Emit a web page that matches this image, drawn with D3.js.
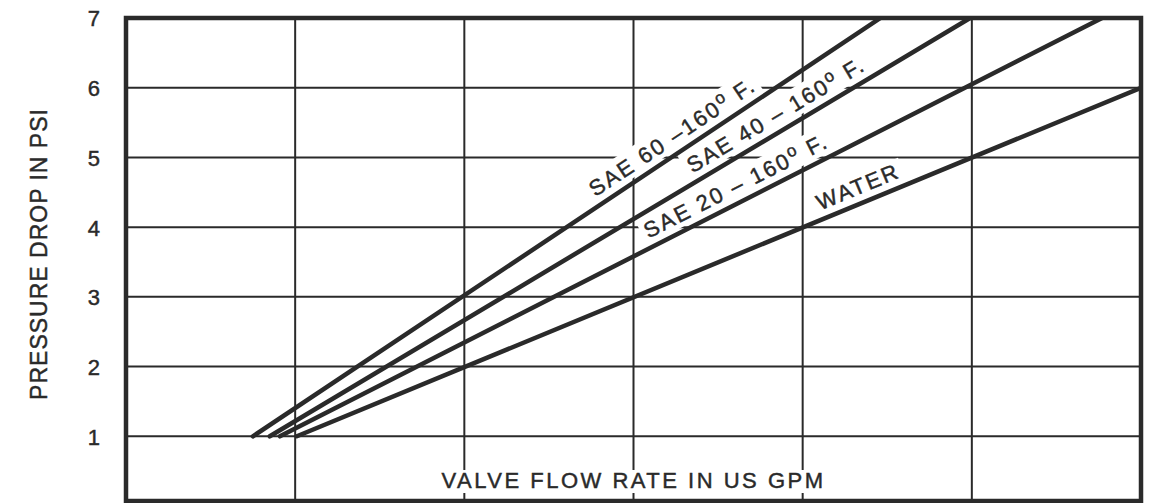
<!DOCTYPE html>
<html>
<head>
<meta charset="utf-8">
<script src="https://cdn.jsdelivr.net/npm/d3@7"></script>
<style>
  body { margin: 0; background: #fff; }
  text { font-family: "Liberation Sans", Arial, sans-serif; fill: #2a2a2a; stroke: #2a2a2a; stroke-width: 0.45px; }
</style>
</head>
<body>
<div id="chart"></div>
<script>
// values (x is in grid divisions, the x axis carries no numbers)
var seriesNames = ["SAE 60 –160", "SAE 40 – 160", "SAE 20 – 160", "WATER"];
var hasDegree = [true, true, true, false];
var startFlow = [0.75, 0.85, 0.91, 1.01];
var startPsi = [1, 1, 1, 1];
var endFlow = [4.46, 4.99, 5.77, 6.0];
var endPsi = [7, 7, 7, 6];
var labelPsi = [4.32, 4.66, 3.72, 4.12];   // where each label starts along its line

var yTicks = [1, 2, 3, 4, 5, 6, 7];
var xGrid = [1, 2, 3, 4, 5];

// set up the svg
var svgWidth = 1156;
var svgHeight = 503;

var frame = { left: 126, right: 1141, top: 18, bottom: 501 };

var svg = d3.select("#chart")
    .append("svg")
    .attr("width", svgWidth)
    .attr("height", svgHeight);

svg.append("rect")
    .attr("width", svgWidth)
    .attr("height", svgHeight)
    .attr("fill", "#fff");

var xScale = d3.scaleLinear()
    .domain([0, 6])
    .range([frame.left, frame.right]);

var yScale = d3.scaleLinear()
    .domain([0, 7])
    .range([506, frame.top]);

var ink = "#2a2a2a";

// grid lines
var gridGroup = svg.append("g");

gridGroup.selectAll(".hgrid")
    .data(yTicks.slice(0, -1))
    .enter()
    .append("line")
    .attr("x1", frame.left)
    .attr("x2", frame.right)
    .attr("y1", d => yScale(d))
    .attr("y2", d => yScale(d))
    .attr("stroke", ink)
    .attr("stroke-width", 2);

gridGroup.selectAll(".vgrid")
    .data(xGrid)
    .enter()
    .append("line")
    .attr("x1", d => xScale(d))
    .attr("x2", d => xScale(d))
    .attr("y1", frame.top)
    .attr("y2", frame.bottom)
    .attr("stroke", ink)
    .attr("stroke-width", 2);

// y axis tick labels
var leftAxis = d3.axisLeft(yScale)
    .tickValues(yTicks)
    .tickFormat(d3.format("d"))
    .tickSize(0)
    .tickPadding(0);

var yAxis = svg.append("g")
    .attr("transform", "translate(100, 0)")
    .call(leftAxis);

yAxis.select(".domain").remove();
yAxis.selectAll("text")
    .attr("font-size", 22)
    .attr("font-family", "Liberation Sans, Arial, sans-serif")
    .attr("fill", ink)
    .attr("dy", "0.36em");

// y axis title
svg.append("text")
    .attr("transform", "translate(47, 254) rotate(-90)")
    .attr("text-anchor", "middle")
    .attr("font-size", 23)
    .attr("letter-spacing", 1)
    .text("PRESSURE DROP IN PSI");

// x axis title sits inside the plot on a white patch
var xTitle = svg.append("g");
var xTitleText = xTitle.append("text")
    .attr("x", xScale(3))
    .attr("y", 488)
    .attr("text-anchor", "middle")
    .attr("font-size", 22)
    .attr("letter-spacing", 2.5)
    .text("VALVE FLOW RATE IN US GPM");
var xb = xTitleText.node().getBBox();
xTitle.insert("rect", "text")
    .attr("x", xb.x - 6)
    .attr("y", xb.y + 2)
    .attr("width", xb.width + 12)
    .attr("height", xb.height - 2)
    .attr("fill", "#fff");

// series geometry
var series = seriesNames.map(function(name, i) {
    return {
        name: name,
        degree: hasDegree[i],
        points: [[startFlow[i], startPsi[i]], [endFlow[i], endPsi[i]]],
        labelPsi: labelPsi[i]
    };
});

function pointAt(s, psi) {
    var t = (psi - s.points[0][1]) / (s.points[1][1] - s.points[0][1]);
    var f = s.points[0][0] + t * (s.points[1][0] - s.points[0][0]);
    return [xScale(f), yScale(psi)];
}

function angleOf(s) {
    var a = [xScale(s.points[0][0]), yScale(s.points[0][1])];
    var b = [xScale(s.points[1][0]), yScale(s.points[1][1])];
    return Math.atan2(b[1] - a[1], b[0] - a[0]) * 180 / Math.PI;
}

// labels: white patches first, lines, then text
var labelGroups = svg.append("g").selectAll("g")
    .data(series)
    .enter()
    .append("g")
    .attr("transform", function(d) {
        var p = pointAt(d, d.labelPsi);
        return `translate(${p[0]}, ${p[1]}) rotate(${angleOf(d)})`;
    });

var labelTexts = labelGroups.append("text")
    .attr("x", 0)
    .attr("y", -9)
    .attr("font-size", 22)
    .attr("letter-spacing", 2.2);

labelTexts.append("tspan").text(d => d.name);
labelTexts.filter(d => d.degree).append("tspan")
    .attr("font-size", 17)
    .attr("dy", -8)
    .text("o");
labelTexts.filter(d => d.degree).append("tspan")
    .attr("dy", 8)
    .text(" F.");

labelGroups.each(function() {
    var g = d3.select(this);
    var bb = g.select("text").node().getBBox();
    g.insert("rect", "text")
        .attr("x", bb.x - 4)
        .attr("y", bb.y + 1)
        .attr("width", bb.width + 8)
        .attr("height", bb.height - 1)
        .attr("fill", "#fff");
});

// clip lines to frame
svg.append("clipPath")
    .attr("id", "plotClip")
    .append("rect")
    .attr("x", frame.left)
    .attr("y", frame.top)
    .attr("width", frame.right - frame.left)
    .attr("height", frame.bottom - frame.top);

var line = d3.line()
    .x(d => xScale(d[0]))
    .y(d => yScale(d[1]));

svg.append("g")
    .attr("clip-path", "url(#plotClip)")
    .selectAll("path")
    .data(series)
    .enter()
    .append("path")
    .attr("d", d => line(d.points))
    .attr("fill", "none")
    .attr("stroke", ink)
    .attr("stroke-width", 4.5)
    .attr("stroke-linecap", "round");

// bring label text above everything drawn so far
labelGroups.raise();

// frame
svg.append("rect")
    .attr("x", frame.left)
    .attr("y", frame.top)
    .attr("width", frame.right - frame.left)
    .attr("height", frame.bottom - frame.top)
    .attr("fill", "none")
    .attr("stroke", ink)
    .attr("stroke-width", 4.5);
</script>
</body>
</html>
